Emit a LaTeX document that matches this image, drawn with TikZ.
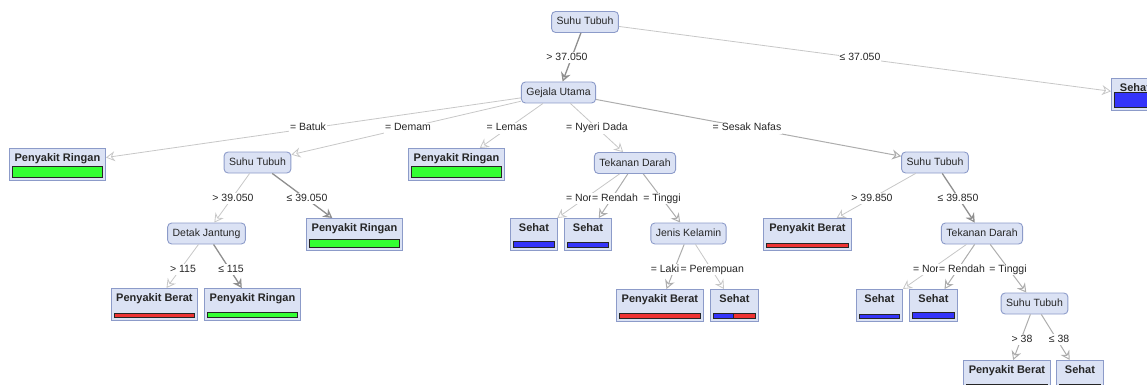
\documentclass[tikz,border=0pt]{standalone}
\usepackage{fontspec}
\setmainfont{Liberation Sans}
\usetikzlibrary{arrows.meta}
\definecolor{nfill}{HTML}{DBE2F4}
\definecolor{ndraw}{HTML}{8C9BC9}
\definecolor{barG}{HTML}{33FF33}
\definecolor{barB}{HTML}{3434FA}
\definecolor{barR}{HTML}{EE3333}
\tikzset{
  inner/.style={draw=ndraw, fill=nfill, rounded corners=4pt, line width=0.9pt,
    minimum height=21pt, inner xsep=5pt, inner ysep=0pt, text height=8pt, text depth=2pt,
    font=\fontsize{10.5}{12}\selectfont, text=black!85},
  leafbox/.style={draw=ndraw, fill=nfill, line width=0.9pt, minimum height=32pt, inner sep=0pt},
  leaftext/.style={font=\fontsize{11}{13}\bfseries\selectfont, text=black!85, inner sep=0pt, anchor=base},
  bar/.style={draw=black!85, line width=0.9pt},
  lbl/.style={fill=white, inner xsep=1pt, inner ysep=1pt, text height=7.5pt, text depth=1.5pt,
    font=\fontsize{10.5}{12}\selectfont, text=black!85},
  tip/.style={-{Stealth[open, length=9pt, width=10pt, inset=3pt]}},
  e1/.style={tip, draw=black!22, line width=0.8pt},
  e2/.style={tip, draw=black!32, line width=1pt},
  e3/.style={tip, draw=black!44, line width=1.3pt},
}
% #1 name, #2 left x, #3 top y, #4 width, #5 text, #6 bar height, #7 bar colour
\newcommand\leafnode[7]{%
  \node[leafbox, minimum width=#4pt, anchor=north west] (#1) at (#2,#3) {};
  \node[leaftext] (#1t) at ([yshift=-13.5pt]#1.north) {#5};
  \draw[bar, fill=#7] ([xshift=3pt,yshift=3pt]#1.south west) rectangle ([xshift=-3pt,yshift={(3+#6)*1pt}]#1.south east);
}
\begin{document}
\begin{tikzpicture}[x=1pt,y=-1pt]
\useasboundingbox (0,0) rectangle (1147,385);
\clip (0,0) rectangle (1147,385);
% internal nodes
\node[inner] (root) at (585,22) {Suhu Tubuh};
\node[inner] (gej) at (558.5,92.5) {Gejala Utama};
\node[inner] (suhuL) at (257.5,162.5) {Suhu Tubuh};
\node[inner] (detak) at (206.5,233.5) {Detak Jantung};
\node[inner] (tek) at (635,163) {Tekanan Darah};
\node[inner] (jenis) at (688.5,233.5) {Jenis Kelamin};
\node[inner] (suhuR) at (935,162.5) {Suhu Tubuh};
\node[inner] (tekR) at (982,233.5) {Tekanan Darah};
\node[inner] (suhuB) at (1034.5,303.5) {Suhu Tubuh};
% leaves
\leafnode{lTop}{1111}{78}{47}{Sehat}{15}{barB}
\leafnode{lBatuk}{9}{148}{96}{Penyakit Ringan}{11}{barG}
\leafnode{lLemas}{408}{148}{96}{Penyakit Ringan}{11}{barG}
\leafnode{lLe39}{306}{218}{96}{Penyakit Ringan}{8}{barG}
\leafnode{lNor}{510}{218}{47}{Sehat}{6}{barB}
\leafnode{lRen}{564}{218}{47}{Sehat}{5}{barB}
\leafnode{lBer39}{763}{218}{88}{Penyakit Berat}{4}{barR}
\leafnode{lBer115}{111}{288}{86}{Penyakit Berat}{4}{barR}
\leafnode{lRin115}{204}{288}{96}{Penyakit Ringan}{5}{barG}
\leafnode{lLaki}{616}{289}{87}{Penyakit Berat}{5}{barR}
\node[leafbox, minimum width=48pt, anchor=north west] (lPer) at (710,289) {};
\node[leaftext] (lPert) at ([yshift=-13.5pt]lPer.north) {Sehat};
\draw[bar, fill=barB] ([xshift=3pt,yshift=3pt]lPer.south west) rectangle ([xshift=-25pt,yshift=8pt]lPer.south east);
\draw[bar, fill=barR] ([xshift=-25pt,yshift=3pt]lPer.south east) rectangle ([xshift=-3pt,yshift=8pt]lPer.south east);
\leafnode{lNorR}{856}{289}{46}{Sehat}{4}{barB}
\leafnode{lRenR}{909}{289}{48}{Sehat}{6}{barB}
\leafnode{lBerB}{963}{360}{87}{Penyakit Berat}{5}{barR}
\leafnode{lSehB}{1056}{360}{47}{Sehat}{5}{barB}
% edges
\draw[e3] (root) -- (gej);
\draw[e1] (root) -- (lTop);
\draw[e1] (gej) -- (lBatuk);
\draw[e1] (gej) -- (suhuL);
\draw[e1] (gej) -- (lLemas);
\draw[e1] (gej) -- (tek);
\draw[e2] (gej) -- (suhuR);
\draw[e1] (suhuL) -- (detak);
\draw[e3] (suhuL) -- (lLe39);
\draw[e1] (detak) -- (lBer115);
\draw[e3] (detak) -- (lRin115);
\draw[e1] (tek) -- (lNor);
\draw[e2] (tek) -- (lRen);
\draw[e2] (tek) -- (jenis);
\draw[e2] (jenis) -- (lLaki);
\draw[e1] (jenis) -- (lPer);
\draw[e1] (suhuR) -- (lBer39);
\draw[e3] (suhuR) -- (tekR);
\draw[e1] (tekR) -- (lNorR);
\draw[e2] (tekR) -- (lRenR);
\draw[e2] (tekR) -- (suhuB);
\draw[e2] (suhuB) -- (lBerB);
\draw[e2] (suhuB) -- (lSehB);
% edge labels
\node[lbl] (t1) at (567,58) {> 37.050};
\node[lbl] (t2) at (860,58) {≤ 37.050};
\node[lbl] (t3) at (308,128) {= Batuk};
\node[lbl] (t4) at (408,128) {= Demam};
\node[lbl] (t5) at (507,128) {= Lemas};
\node[lbl] (t6) at (597,128) {= Nyeri Dada};
\node[lbl] (t7) at (747,128) {= Sesak Nafas};
\node[lbl] (t8) at (233,198) {> 39.050};
\node[lbl] (t9) at (307,198) {≤ 39.050};
\node[lbl] (t10) at (579,198) {= Nor};
\node[lbl] (t11) at (615,198) {= Rendah};
\node[lbl] (t12) at (662,198) {= Tinggi};
\node[lbl] (t13) at (872,198) {> 39.850};
\node[lbl] (t14) at (958,198) {≤ 39.850};
\node[lbl] (t15) at (183,269) {> 115};
\node[lbl] (t16) at (231,269) {≤ 115};
\node[lbl] (t17) at (665,269) {= Laki};
\node[lbl, anchor=west, inner xsep=0pt] (t18) at (t17.east) {= Perempuan};
\node[lbl] (t19) at (926,269) {= Nor};
\node[lbl] (t20) at (962,269) {= Rendah};
\node[lbl] (t21) at (1008,269) {= Tinggi};
\node[lbl] (t22) at (1022,339) {> 38};
\node[lbl] (t23) at (1059,339) {≤ 38};
\end{tikzpicture}
\end{document}
